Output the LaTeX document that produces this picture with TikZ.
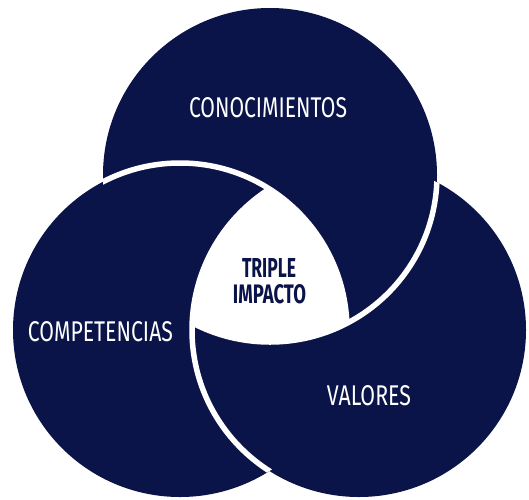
\documentclass[tikz,border=0pt]{standalone}
\usepackage{fontspec}
\setmainfont{Fira Sans}
\usepackage{graphicx}
\definecolor{navy}{HTML}{0B1449}
\tikzset{
  disc/.style={fill=navy},
  gap/.style={draw=white, line width=5.5pt},
  lbl/.style={inner sep=0pt, text=white, anchor=center},
  core/.style={inner sep=0pt, text=navy, anchor=center, font=\bfseries}
}
\begin{document}
\begin{tikzpicture}[x=1pt, y=-1pt]
  \useasboundingbox (0,0) rectangle (529,499);
  \coordinate (A) at (270,175);
  \coordinate (B) at (180,330);
  \coordinate (C) at (359,330);
  \def\R{167pt}
  % discs
  \fill[disc] (A) circle (\R);
  \fill[disc] (B) circle (\R);
  \fill[disc] (C) circle (\R);
  % B over A
  \begin{scope}
    \clip (A) circle (\R);
    \draw[gap] (B) circle (\R);
  \end{scope}
  % C over B
  \begin{scope}
    \clip (B) circle (\R);
    \draw[gap] (C) circle (\R);
  \end{scope}
  % A over C
  \begin{scope}
    \clip (C) circle (\R);
    \draw[gap] (A) circle (\R);
  \end{scope}
  % white centre
  \begin{scope}
    \clip (A) circle (\R);
    \clip (B) circle (\R);
    \fill[white] (C) circle (\R);
  \end{scope}
  % labels
  \node[lbl] (kn) at (268,108) {\resizebox{158pt}{20pt}{CONOCIMIENTOS}};
  \node[lbl] (co) at (100.5,332) {\resizebox{145pt}{20pt}{COMPETENCIAS}};
  \node[lbl] (va) at (369,396) {\resizebox{84pt}{20pt}{VALORES}};
  \node[core] (t1) at (269,267.5) {\resizebox{54pt}{19pt}{TRIPLE}};
  \node[core] (t2) at (269.5,294.5) {\resizebox{73pt}{19pt}{IMPACTO}};
\end{tikzpicture}
\end{document}
